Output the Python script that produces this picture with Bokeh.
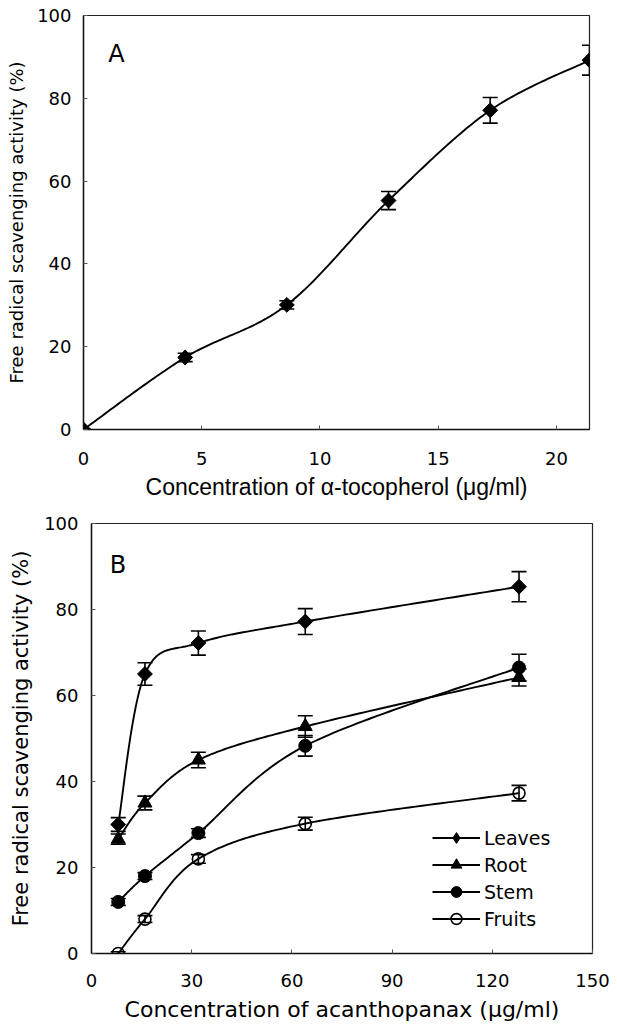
import numpy as np
from bokeh.plotting import figure
from bokeh.layouts import column, row
from bokeh.models import (Whisker, TeeHead, ColumnDataSource, Label, Range1d,
                          FixedTicker, Legend, LegendItem, Spacer)
from bokeh.embed import file_html
from bokeh.resources import INLINE

# ---------------- Data ----------------
# Panel A: alpha-tocopherol
toco_conc = [0, 4.3, 8.6, 12.9, 17.2, 21.4]
toco_act = [0, 17.4, 30.1, 55.3, 77.1, 89.2]
toco_err = [0, 1.0, 1.0, 2.2, 3.1, 3.6]

# Panel B: acanthopanax
acan_conc = [8, 16, 32, 64, 128]
leaves = [30.0, 65.0, 72.2, 77.2, 85.3]
leaves_err = [1.6, 2.6, 2.8, 3.0, 3.5]
root = [26.6, 35.0, 45.0, 52.8, 64.2]
root_err = [1.2, 1.6, 1.8, 2.5, 2.0]
stem = [12.0, 18.0, 28.0, 48.3, 66.5]
stem_err = [0.8, 0.8, 1.0, 2.4, 3.1]
fruits = [0.0, 8.0, 22.0, 30.2, 37.3]
fruits_err = [0.4, 0.8, 1.0, 1.5, 1.8]

series_names = ["Leaves", "Root", "Stem", "Fruits"]

FONT = "DejaVu Sans"


def smooth(xs, ys, sx, sy, n=40):
    """Bezier smoothing (Excel-like) computed in approximate screen space."""
    P = np.column_stack([np.asarray(xs, float) * sx, np.asarray(ys, float) * sy])
    m = len(P)
    out = [P[0]]
    t = np.linspace(0, 1, n)[1:, None]
    for i in range(m - 1):
        p0 = P[i - 1] if i > 0 else P[i]
        p1, p2 = P[i], P[i + 1]
        p3 = P[i + 2] if i + 2 < m else P[i + 1]
        c1 = p1 + (p2 - p0) / 6.0
        c2 = p2 - (p3 - p1) / 6.0
        seg = (1 - t) ** 3 * p1 + 3 * (1 - t) ** 2 * t * c1 + 3 * (1 - t) * t ** 2 * c2 + t ** 3 * p2
        out.extend(seg)
    out = np.array(out)
    return out[:, 0] / sx, out[:, 1] / sy


def style(p, xticks, xlabel, xlabel_font, xlabel_size, ylabel_size,
          x_stand, x_lab_stand, y_stand, y_lab_stand):
    p.grid.visible = False
    p.outline_line_color = "#222222"
    p.outline_line_width = 1.2
    p.background_fill_color = "white"
    p.border_fill_color = "white"
    for ax in (p.xaxis[0], p.yaxis[0]):
        ax.axis_line_color = "#111111"
        ax.axis_line_width = 1.4
        ax.major_tick_in = 4
        ax.major_tick_out = 0
        ax.major_tick_line_color = "#555555"
        ax.minor_tick_line_color = None
        ax.major_label_text_font = FONT
        ax.major_label_text_font_size = "18px"
        ax.major_label_text_color = "black"
        ax.axis_label_text_font_style = "normal"
        ax.axis_label_text_color = "black"
    p.xaxis[0].ticker = FixedTicker(ticks=xticks)
    p.yaxis[0].ticker = FixedTicker(ticks=[0, 20, 40, 60, 80, 100])
    p.xaxis[0].major_label_standoff = x_stand
    p.yaxis[0].major_label_standoff = y_stand
    p.xaxis[0].axis_label = xlabel
    p.xaxis[0].axis_label_text_font = xlabel_font
    p.xaxis[0].axis_label_text_font_size = xlabel_size
    p.xaxis[0].axis_label_standoff = x_lab_stand
    p.yaxis[0].axis_label = "Free radical scavenging activity (%)"
    p.yaxis[0].axis_label_text_font = FONT
    p.yaxis[0].axis_label_text_font_size = ylabel_size
    p.yaxis[0].axis_label_standoff = y_lab_stand


def errorbars(p, xs, ys, es):
    src = ColumnDataSource(dict(x=xs, lower=[y - e for y, e in zip(ys, es)],
                                upper=[y + e for y, e in zip(ys, es)]))
    w = Whisker(source=src, base="x", lower="lower", upper="upper",
                line_color="black", line_width=1.6, level="underlay",
                upper_head=TeeHead(size=15, line_width=1.6, line_color="black"),
                lower_head=TeeHead(size=15, line_width=1.6, line_color="black"))
    p.add_layout(w)


# ---------------- Panel A ----------------
pA = figure(width=610, height=513, x_range=Range1d(0, 21.4), y_range=Range1d(0, 100),
            output_backend="svg", toolbar_location=None,
            min_border_left=83, min_border_top=15, min_border_right=21, min_border_bottom=84)
style(pA, [0, 5, 10, 15, 20], "Concentration of \u03b1-tocopherol (\u03bcg/ml)",
      "Liberation Sans", "23px", "18px", 22, 6, 12, 7)
errorbars(pA, toco_conc, toco_act, toco_err)
sxA, syA = 23.7, 4.14
lx, ly = smooth(toco_conc, toco_act, sxA, syA)
pA.line(lx, ly, line_color="black", line_width=1.9)
pA.scatter(toco_conc, toco_act, marker="square", angle=np.pi / 4, size=10.5,
           fill_color="black", line_color="black")
pA.add_layout(Label(x=1.05, y=94.0, text="A", text_baseline="top",
                    text_font=FONT, text_font_size="24px", text_color="black"))

# ---------------- Panel B ----------------
pB = figure(width=604, height=512, x_range=Range1d(0, 150), y_range=Range1d(0, 100),
            output_backend="svg", toolbar_location=None,
            min_border_left=83, min_border_top=10, min_border_right=18, min_border_bottom=72)
style(pB, [0, 30, 60, 90, 120, 150], "Concentration of acanthopanax (\u03bcg/ml)",
      FONT, "22px", "21px", 20, 7, 13, 8)
sxB, syB = 3.35, 4.3

vals = [leaves, root, stem, fruits]
errs = [leaves_err, root_err, stem_err, fruits_err]
items = []
for ys, es in zip(vals, errs):
    errorbars(pB, acan_conc, ys, es)
for name, ys in zip(series_names, vals):
    lx, ly = smooth(acan_conc, ys, sxB, syB)
    lr = pB.line(lx, ly, line_color="black", line_width=1.9)
    if name == "Leaves":
        # small diamond hidden under the rotated square; used as the legend symbol
        leg_r = pB.scatter(acan_conc, ys, marker="diamond", size=9,
                           fill_color="black", line_color="black")
        pB.scatter(acan_conc, ys, marker="square", angle=np.pi / 4, size=10.5,
                   fill_color="black", line_color="black")
        items.append(LegendItem(label=name, renderers=[lr, leg_r]))
        continue
    elif name == "Root":
        sr = pB.scatter(acan_conc, ys, marker="triangle", size=14,
                        fill_color="black", line_color="black")
    elif name == "Stem":
        sr = pB.scatter(acan_conc, ys, marker="circle", size=13,
                        fill_color="black", line_color="black")
    else:
        sr = pB.scatter(acan_conc, ys, marker="circle", size=12, fill_alpha=0,
                        line_color="black", line_width=1.6)
    items.append(LegendItem(label=name, renderers=[lr, sr]))

leg = Legend(items=items, location=(341, 21), border_line_alpha=0,
             background_fill_alpha=0, glyph_width=48, glyph_height=27,
             label_standoff=4, spacing=0, padding=0, margin=0,
             label_text_font=FONT, label_text_font_size="19px",
             label_text_color="black")
pB.add_layout(leg)
pB.add_layout(Label(x=5.5, y=93.5, text="B", text_baseline="top",
                    text_font=FONT, text_font_size="24px", text_color="black"))

layout = column(pA, row(Spacer(width=6), pB, spacing=0), spacing=0)
open("out.html", "w").write(file_html(layout, INLINE))
